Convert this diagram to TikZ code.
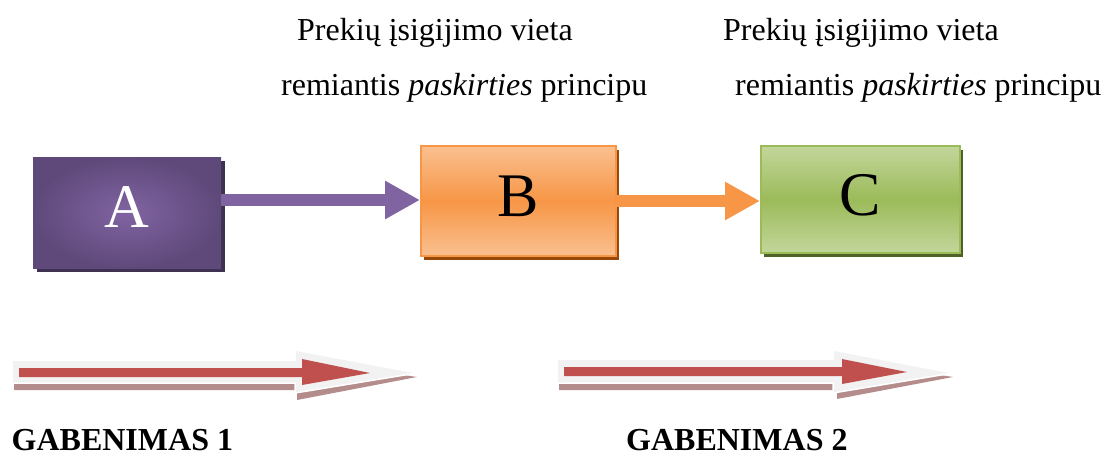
\documentclass[tikz,border=0pt]{standalone}
\usepackage{fontspec}
\setmainfont{Liberation Serif}
\usetikzlibrary{arrows.meta,shadows}
\definecolor{purpleA}{HTML}{8064A2}
\definecolor{purpleAdark}{HTML}{5F497A}
\definecolor{purpleAshadow}{HTML}{3F3151}
\definecolor{orangeB}{HTML}{F79646}
\definecolor{orangeBlight}{HTML}{FAC090}
\definecolor{orangeBshadow}{HTML}{984807}
\definecolor{greenC}{HTML}{9BBB59}
\definecolor{greenClight}{HTML}{C3D69B}
\definecolor{greenCshadow}{HTML}{4F6228}
\definecolor{redArrow}{HTML}{C0504D}
\definecolor{glowGray}{HTML}{F2F2F2}
\definecolor{shadowRose}{HTML}{B48C8C}
\tikzset{
  boxbase/.style={rectangle, inner sep=0pt, text depth=10pt,
    font=\fontsize{62}{62}\selectfont},
  lbl/.style={inner sep=0pt, anchor=base west, font=\fontsize{32}{38}\selectfont},
  boldlbl/.style={lbl, text depth=0pt, font=\fontsize{32}{38}\selectfont\bfseries},
  fatarrow/.style={line width=11.5pt, -{Triangle[length=35pt,width=36pt]}},
  glow/.style={fill=glowGray, draw=white, line width=1.5pt, line join=miter},
}
\begin{document}
\begin{tikzpicture}[x=1pt,y=-1pt]
\useasboundingbox (0,0) rectangle (1104,455);

% boxes
\node[boxbase, minimum width=188pt, minimum height=111pt, text=white,
  inner color=purpleA, outer color=purpleAdark,
  general shadow={fill=purpleAshadow, shadow xshift=4pt, shadow yshift=-4pt}]
  (A) at (127,212.5) {A};
\node[boxbase, minimum width=195pt, minimum height=110pt,
  draw=orangeB, line width=2pt,
  top color=orangeBlight, bottom color=orangeBlight, middle color=orangeB,
  general shadow={fill=orangeBshadow, shadow xshift=3pt, shadow yshift=-4pt}]
  (B) at (518.5,201) {B};
\node[boxbase, minimum width=199pt, minimum height=107pt,
  draw=greenC, line width=2pt,
  top color=greenClight, bottom color=greenClight, middle color=greenC,
  general shadow={fill=greenCshadow, shadow xshift=3pt, shadow yshift=-4pt}]
  (C) at (860.5,199.5) {C};

% connectors
\draw[fatarrow, purpleA] (A.east |- 0,200) -- (B.west |- 0,200);
\draw[fatarrow, orangeB] (B.east |- 0,201) -- (C.west |- 0,201);

% top labels
\node[lbl] (l1a) at (297,40) {Prekių įsigijimo vieta};
\node[lbl] (l1b) at (281,95) {remiantis \textit{paskirties} principu};
\node[lbl] (l2a) at (723,40) {Prekių įsigijimo vieta};
\node[lbl] (l2b) at (735,95) {remiantis \textit{paskirties} principu};

% block arrow 1
\fill[shadowRose] (14,369) -- (297,369) -- (297,359) -- (417,377) -- (297,400) -- (297,390) -- (14,390) -- cycle;
\filldraw[glow] (12,360) -- (295,360) -- (295,350) -- (417,373) -- (295,393) -- (295,383) -- (12,383) -- cycle;
\fill[redArrow] (19,368) -- (302,368) -- (302,359) -- (370,373) -- (302,385) -- (302,377) -- (19,377) -- cycle;

% block arrow 2
\fill[shadowRose] (559,369) -- (837,369) -- (837,359) -- (953,377) -- (837,399) -- (837,390) -- (559,390) -- cycle;
\filldraw[glow] (557,359) -- (833,359) -- (833,350) -- (953,373) -- (833,393) -- (833,383) -- (557,383) -- cycle;
\fill[redArrow] (564,367) -- (842,367) -- (842,359) -- (907,372) -- (842,384) -- (842,376) -- (564,376) -- cycle;

% bottom labels
\node[boldlbl] (g1) at (11.5,450) {GABENIMAS 1};
\node[boldlbl] (g2) at (626,450) {GABENIMAS 2};
\end{tikzpicture}
\end{document}
